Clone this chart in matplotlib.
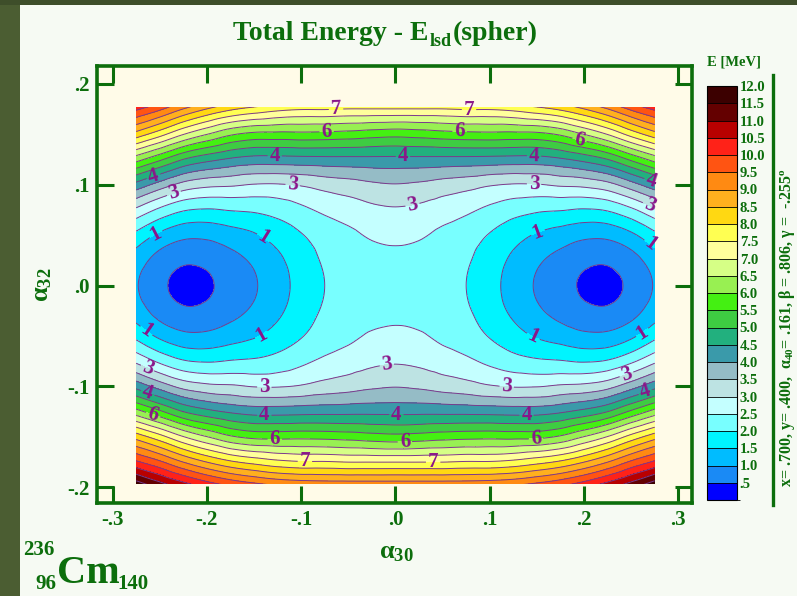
import numpy as np
import matplotlib
matplotlib.use("Agg")
import matplotlib.pyplot as plt
import matplotlib.tri as mtri
from matplotlib.colors import ListedColormap, BoundaryNorm
from matplotlib.cm import ScalarMappable
from matplotlib.patches import Rectangle
from matplotlib.lines import Line2D
from matplotlib.transforms import offset_copy

plt.rcParams['font.family'] = ['Liberation Serif', 'DejaVu Serif']
plt.rcParams['font.weight'] = 'bold'
plt.rcParams['mathtext.fontset'] = 'custom'
plt.rcParams['mathtext.rm'] = 'Liberation Serif:bold'
plt.rcParams['mathtext.it'] = 'Liberation Serif:bold'
plt.rcParams['mathtext.bf'] = 'Liberation Serif:bold'

GREEN = '#0c6e0c'

# ---- data: total energy (MeV) on one quadrant of the (alpha30, alpha32) plane ----
alpha30_nodes = [0.0, 0.025, 0.05, 0.075, 0.1, 0.125, 0.15, 0.175, 0.2, 0.225, 0.25, 0.275]
alpha32_nodes = [0.0, 0.025, 0.05, 0.075, 0.1, 0.125, 0.15, 0.175, 0.2]
# rows follow alpha32_nodes, columns follow alpha30_nodes
energy_quadrant = [
    [2.30, 2.27, 2.17, 2.00, 1.67, 1.30, 0.95, 0.68, 0.44, 0.39, 0.60, 1.04],
    [2.37, 2.33, 2.22, 2.06, 1.75, 1.40, 1.08, 0.83, 0.61, 0.57, 0.80, 1.25],
    [2.62, 2.56, 2.39, 2.23, 1.97, 1.70, 1.45, 1.28, 1.12, 1.13, 1.40, 1.87],
    [2.95, 2.89, 2.75, 2.60, 2.39, 2.20, 2.08, 2.03, 1.96, 2.05, 2.40, 2.90],
    [3.48, 3.42, 3.30, 3.20, 3.05, 2.97, 2.98, 3.08, 3.14, 3.34, 3.80, 4.34],
    [4.37, 4.37, 4.36, 4.35, 4.33, 4.30, 4.30, 4.43, 4.66, 5.00, 5.60, 6.20],
    [5.67, 5.72, 5.80, 5.85, 5.87, 5.85, 5.87, 6.08, 6.52, 7.03, 7.70, 8.30],
    [7.50, 7.50, 7.50, 7.55, 7.55, 7.65, 7.85, 8.10, 8.50, 9.00, 9.60, 10.10],
    [9.50, 9.50, 9.50, 9.50, 9.55, 9.65, 9.85, 10.10, 10.45, 10.90, 11.40, 12.00],
]
# plotted window of the calculation
alpha30_range = (-0.275, 0.275)
alpha32_range = (-0.197, 0.177)

energy_levels = np.arange(0.0, 12.01, 0.5)
labelled_levels = [1.5, 3.0, 4.5, 6.0, 7.5]
band_colors = [
    '#0000ff', '#1a8af5', '#00bcff', '#00f4ff', '#78ffff', '#c4ffff',
    '#bde3e3', '#95bcc6', '#3a9aaa', '#22b07e', '#3ecc42', '#44f012',
    '#98f052', '#d6ff86', '#ffff9c', '#ffff52', '#ffd812', '#ffb01e',
    '#ff8a12', '#ff5412', '#ff2218', '#b80000', '#640000', '#3c0000',
]
nuclide = ('236', '96', 'Cm', '140')
title_parts = ('Total Energy - E', 'lsd', '(spher)')
shape_info = r'x= .700, y= .400,  $\mathrm{α}_{40}$= .161, β = .806, γ =  -.255$^{\rm o}$'

# ---- mirror the quadrant (surface is symmetric in both coordinates) ----
xq = np.array(alpha30_nodes)
yq = np.array(alpha32_nodes)
eq = np.array(energy_quadrant)
x_full = np.concatenate([-xq[:0:-1], xq])
y_full = np.concatenate([-yq[:0:-1], yq])
e_half = np.hstack([eq[:, :0:-1], eq])
e_full = np.vstack([e_half[:0:-1, :], e_half])

X, Y = np.meshgrid(x_full, y_full)
tri = mtri.Triangulation(X.ravel(), Y.ravel())
interp = mtri.CubicTriInterpolator(tri, e_full.ravel(), kind='geom')
refiner = mtri.UniformTriRefiner(tri)
tri_f, e_f = refiner.refine_field(e_full.ravel(), triinterpolator=interp, subdiv=3)

# ---- figure ----
W, H = 797, 596
fig = plt.figure(figsize=(W / 100, H / 100), dpi=100, facecolor='#f6faf3')
fig.patches.append(Rectangle((0, 0), 20 / W, 1, transform=fig.transFigure,
                             facecolor='#4b5d32', edgecolor='none', zorder=0))
fig.patches.append(Rectangle((0, 1 - 5 / H), 1, 5 / H, transform=fig.transFigure,
                             facecolor='#3e4e2a', edgecolor='none', zorder=0))

ax = fig.add_axes([97 / W, 1 - 503 / H, (692 - 97) / W, (503 - 66) / H])
ax.set_facecolor('#fffbe8')

cmap = ListedColormap(band_colors)
cmap.set_under(band_colors[0])
cmap.set_over(band_colors[-1])
cf = ax.tricontourf(tri_f, e_f, levels=energy_levels, cmap=cmap, extend='both')

line_color = '#7a3a8c'
plain_levels = [v for v in energy_levels[1:] if v not in labelled_levels]
cl = ax.tricontour(tri_f, e_f, levels=plain_levels, colors=line_color, linewidths=0.7)
cl_lab = ax.tricontour(tri_f, e_f, levels=labelled_levels, colors=line_color, linewidths=0.7)

label_spots = [
    (-0.063, 0.174), (0.078, 0.174), (-0.096, -0.172), (0.04, -0.175),
    (-0.073, 0.152), (0.068, 0.152), (0.195, 0.143), (0.01, -0.155),
    (0.149, -0.152), (-0.128, -0.152), (-0.257, -0.127),
    (-0.128, 0.130), (0.008, 0.127), (0.147, 0.128), (-0.258, 0.113),
    (0.271, 0.103), (0.001, -0.127), (-0.139, -0.131), (0.139, -0.131),
    (-0.263, -0.107), (0.266, -0.108),
    (-0.236, 0.095), (-0.109, 0.100), (0.018, 0.080), (0.147, 0.100),
    (0.269, 0.078), (-0.263, -0.082), (-0.139, -0.100), (-0.009, -0.080),
    (0.118, -0.100), (0.246, -0.091),
    (-0.256, 0.055), (-0.139, 0.049), (0.151, 0.053), (0.269, 0.039),
    (-0.263, -0.043), (-0.142, -0.049), (0.144, -0.055), (0.264, -0.050),
]
labels = ax.clabel(cl_lab, fmt=lambda v: str(int(v)), manual=label_spots,
                   inline=True, inline_spacing=3, fontsize=15, colors='#8a168a')
for t in labels:
    t.set_fontweight('bold')

clip = Rectangle((alpha30_range[0], alpha32_range[0]),
                 alpha30_range[1] - alpha30_range[0],
                 alpha32_range[1] - alpha32_range[0], transform=ax.transData)
for cs in (cf, cl, cl_lab):
    cs.set_clip_path(clip)

ax.set_xlim(-0.3165, 0.3145)
ax.set_ylim(-0.2155, 0.2175)
ax.set_xticks([-0.3, -0.2, -0.1, 0.0, 0.1, 0.2, 0.3])
ax.set_xticklabels(['-.3', '-.2', '-.1', '.0', '.1', '.2', '.3'])
ax.set_yticks([-0.2, -0.1, 0.0, 0.1, 0.2])
ax.set_yticklabels(['-.2', '-.1', '.0', '.1', '.2'])
ax.tick_params(direction='in', length=12, width=2.2, color=GREEN, top=True, right=True,
               labelsize=15, labelcolor=GREEN, pad=5)
for s in ax.spines.values():
    s.set_color(GREEN)
    s.set_linewidth(2.6)

fig.text(396 / W, 1 - 553 / H, r'$\mathrm{α}_{30}$', color=GREEN, fontsize=19,
         ha='center', va='center')
fig.text(43 / W, 1 - 285 / H, r'$\mathrm{α}_{32}$', color=GREEN, fontsize=19,
         ha='center', va='center', rotation=90)

# title: main text, lowered small subscript, then the rest
renderer = fig.canvas.get_renderer()
t_main = fig.text(233 / W, 1 - 40 / H, title_parts[0], color=GREEN, fontsize=20,
                  ha='left', va='baseline')
w_main = t_main.get_window_extent(renderer).width
t_sub = fig.text(233 / W, 1 - 40 / H, title_parts[1], color=GREEN, fontsize=13,
                 ha='left', va='baseline',
                 transform=offset_copy(fig.transFigure, fig=fig, x=w_main + 1, y=-6, units='dots'))
w_sub = t_sub.get_window_extent(renderer).width
fig.text(233 / W, 1 - 40 / H, title_parts[2], color=GREEN, fontsize=20, ha='left', va='baseline',
         transform=offset_copy(fig.transFigure, fig=fig, x=w_main + w_sub + 2, y=0, units='dots'))

# colour bar
cax = fig.add_axes([707 / W, 1 - 500 / H, 30 / W, (500 - 86) / H])
sm = ScalarMappable(norm=BoundaryNorm(energy_levels, len(band_colors)), cmap=ListedColormap(band_colors))
cb = fig.colorbar(sm, cax=cax, boundaries=energy_levels, ticks=energy_levels[1:], drawedges=True)
cb.ax.set_yticklabels(['.5'] + ['%.1f' % v for v in energy_levels[2:]])
cb.ax.tick_params(length=0, labelsize=10.5, labelcolor=GREEN, pad=2)
cb.outline.set_linewidth(0.8)
cb.dividers.set_linewidth(0.6)
fig.text(734 / W, 1 - 62 / H, 'E [MeV]', color=GREEN, fontsize=10.5, ha='center', va='center')

fig.lines.append(Line2D([773 / W, 773 / W], [1 - 75 / H, 1 - 505 / H], transform=fig.transFigure,
                        color=GREEN, linewidth=2.4))
fig.text(787 / W, 1 - 328 / H, shape_info, color=GREEN, fontsize=11.5, rotation=90,
         ha='center', va='center')

# nuclide symbol
fig.text(23 / W, 1 - 555 / H, nuclide[0], color=GREEN, fontsize=15, ha='left', va='baseline')
fig.text(56 / W, 1 - 589 / H, nuclide[1], color=GREEN, fontsize=15, ha='right', va='baseline')
fig.text(57 / W, 1 - 583 / H, nuclide[2], color=GREEN, fontsize=29, ha='left', va='baseline')
fig.text(117 / W, 1 - 589 / H, nuclide[3], color=GREEN, fontsize=15, ha='left', va='baseline')

fig.savefig('out.png', dpi=100, facecolor=fig.get_facecolor())
